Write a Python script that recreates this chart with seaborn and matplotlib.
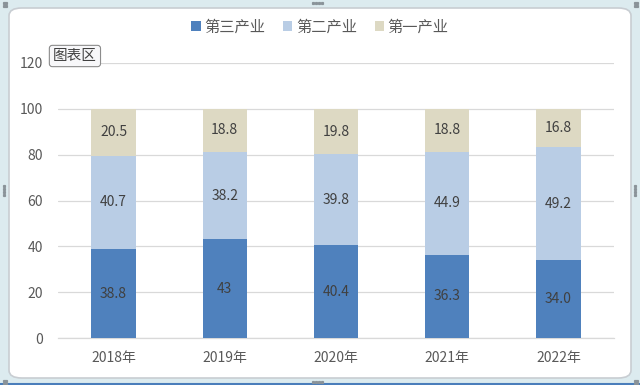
import matplotlib
matplotlib.use("Agg")
import matplotlib.pyplot as plt
import seaborn as sns
import pandas as pd
from matplotlib.patches import FancyBboxPatch, Patch
from matplotlib.lines import Line2D

years = ["2018年", "2019年", "2020年", "2021年", "2022年"]
tertiary = [38.8, 43.0, 40.4, 36.3, 34.0]
secondary = [40.7, 38.2, 39.8, 44.9, 49.2]
primary = [20.5, 18.8, 19.8, 18.8, 16.8]
tertiary_lbl = ["38.8", "43", "40.4", "36.3", "34.0"]
secondary_lbl = ["40.7", "38.2", "39.8", "44.9", "49.2"]
primary_lbl = ["20.5", "18.8", "19.8", "18.8", "16.8"]
series_names = ["第三产业", "第二产业", "第一产业"]
yticks = [0, 20, 40, 60, 80, 100, 120]

c3, c2, c1 = "#4F81BD", "#B9CDE5", "#DDD9C3"
txt = "#595959"

sns.set_theme(style="white")
plt.rcParams["font.family"] = ["Noto Sans CJK SC", "DejaVu Sans"]

fig = plt.figure(figsize=(6.4, 3.85), dpi=100)
fig.patch.set_facecolor("#DCEBEF")
bg = FancyBboxPatch((9 / 640, 7 / 385), 622 / 640, 370 / 385,
                    boxstyle="round,pad=0,rounding_size=0.02",
                    transform=fig.transFigure, facecolor="white",
                    edgecolor="#C8CDD2", linewidth=1.2, zorder=-5)
fig.patches.append(bg)
# bottom edge line of the window
fig.add_artist(Line2D([0, 1], [1 / 385, 1 / 385], transform=fig.transFigure, color="#4A7EBB", linewidth=1.5, zorder=-4))
# sizing handle dots
def dots(x0, y0, n, dx, dy):
    xs = [(x0 + k * dx) / 640 for k in range(n)]
    ys = [1 - (y0 + k * dy) / 385 for k in range(n)]
    fig.add_artist(Line2D(xs, ys, transform=fig.transFigure, linestyle="none", marker="s",
                          markersize=1.3, color="#8A9399", zorder=-3))
dots(313, 3, 4, 3, 0)
dots(313, 382, 4, 3, 0)
dots(4, 186, 4, 0, 3)
dots(635, 186, 4, 0, 3)
for (cx, cy) in [(4, 3), (635, 3), (4, 381), (635, 381)]:
    dots(cx, cy, 2, 0, 3)
    dots(cx + 2, cy, 2, 0, 3)

ax = fig.add_axes([58 / 640, 1 - 338 / 385, 556 / 640, 275 / 385])
ax.set_zorder(3)
ax.set_facecolor("none")

df = pd.DataFrame({"year": years, "t": tertiary, "s": secondary, "p": primary})
df["ts"] = df["t"] + df["s"]
df["tsp"] = df["ts"] + df["p"]

w = 0.40
for col, c in (("tsp", c1), ("ts", c2), ("t", c3)):
    sns.barplot(data=df, x="year", y=col, color=c, width=w, saturation=1, ax=ax,
                zorder=3, linewidth=0, edgecolor="none")

for i in range(len(years)):
    ax.text(i, tertiary[i] / 2, tertiary_lbl[i], ha="center", va="center", fontsize=10, color="#404040", zorder=5)
    ax.text(i, tertiary[i] + secondary[i] / 2, secondary_lbl[i], ha="center", va="center", fontsize=10, color="#404040", zorder=5)
    ax.text(i, tertiary[i] + secondary[i] + primary[i] / 2, primary_lbl[i], ha="center", va="center", fontsize=10, color="#404040", zorder=5)

ax.set_ylim(0, 120)
ax.set_xlim(-0.5, len(years) - 0.5)
ax.set_yticks(yticks)
ax.set_yticklabels([str(v) for v in yticks])
ax.yaxis.grid(True, color="#D9D9D9", linewidth=0.9, zorder=0)
ax.set_axisbelow(True)
for s in ["top", "right", "left"]:
    ax.spines[s].set_visible(False)
ax.spines["bottom"].set_color("#D9D9D9")
ax.spines["bottom"].set_linewidth(0.9)
ax.tick_params(axis="both", length=0, labelsize=10, colors=txt)
ax.tick_params(axis="y", pad=11)
ax.tick_params(axis="x", pad=9.5)
ax.set_xlabel("")
ax.set_ylabel("")

handles = [Patch(facecolor=c, edgecolor="none") for c in (c3, c2, c1)]
leg = fig.legend(handles, series_names, loc="center", bbox_to_anchor=(0.5, 1 - 27 / 385),
                 ncol=3, frameon=False, fontsize=11, handlelength=0.6, handleheight=0.6,
                 handletextpad=0.25, columnspacing=1.15)
for t in leg.get_texts():
    t.set_color(txt)

fig.text(53 / 640, 1 - 56 / 385, "图表区", fontsize=10.5, color="#404040", va="center", ha="left",
         bbox=dict(boxstyle="round,pad=0.25,rounding_size=0.2", facecolor="#F7F7F9", edgecolor="#8C8C8C", linewidth=0.8),
         zorder=10)

fig.savefig("out.png", dpi=100, facecolor=fig.get_facecolor())
